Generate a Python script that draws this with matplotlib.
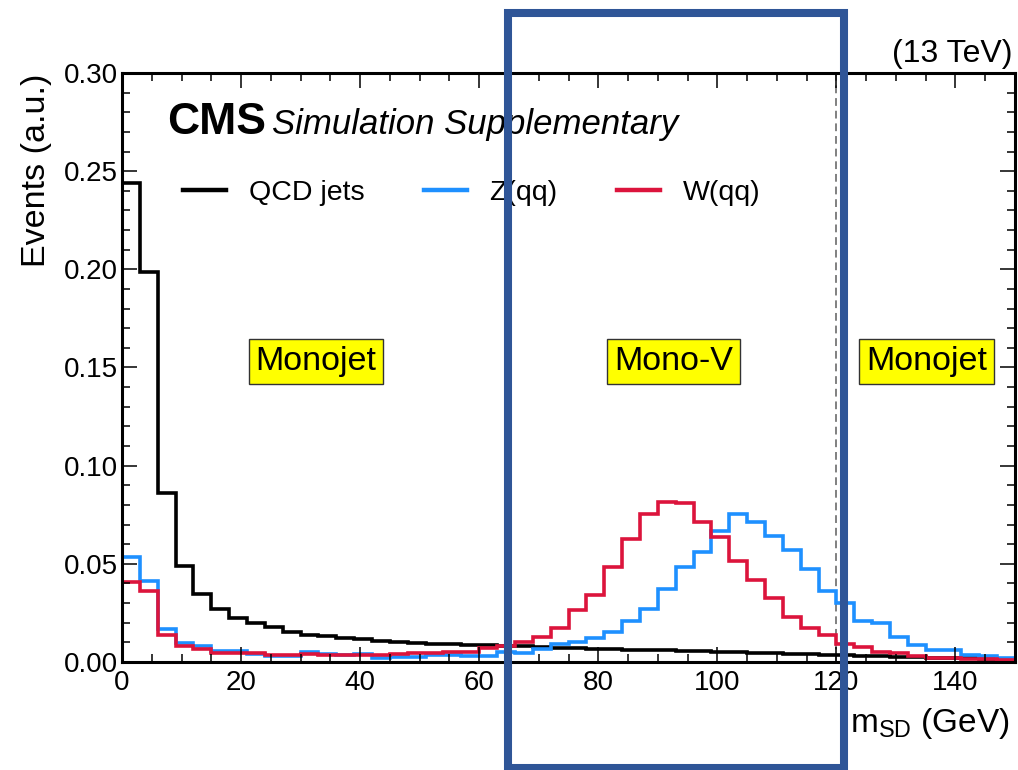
import numpy as np
import matplotlib
matplotlib.use("Agg")
import matplotlib.pyplot as plt
from matplotlib.ticker import MultipleLocator
from matplotlib.patches import Rectangle
import matplotlib.transforms as mtransforms

plt.rcParams['font.family'] = ['Liberation Sans', 'DejaVu Sans']
plt.rcParams['mathtext.fontset'] = 'custom'
plt.rcParams['mathtext.rm'] = 'Liberation Sans'
plt.rcParams['mathtext.it'] = 'Liberation Sans:italic'

# ---------------- data ----------------
bin_edges = np.arange(0, 151, 3)

qcd_jets = [0.244, 0.1985, 0.086, 0.049, 0.0345, 0.027, 0.0224, 0.0198, 0.0176, 0.0153,
            0.0140, 0.0130, 0.0122, 0.0115, 0.0108, 0.0103, 0.0098, 0.0094, 0.0090, 0.0087,
            0.0085, 0.0082, 0.0079, 0.0076, 0.0073, 0.0071, 0.0068, 0.0066, 0.0063, 0.0061,
            0.0059, 0.0056, 0.0054, 0.0052, 0.0050, 0.0047, 0.0045, 0.0043, 0.0040, 0.0038,
            0.0035, 0.0032, 0.0030, 0.0027, 0.0025, 0.0022, 0.0020, 0.0018, 0.0016, 0.0014]

z_qq = [0.0533, 0.0414, 0.0170, 0.0096, 0.0082, 0.0058, 0.0054, 0.0041, 0.0029, 0.0029,
        0.0049, 0.0041, 0.0036, 0.0042, 0.0022, 0.0025, 0.0025, 0.0037, 0.0034, 0.0032,
        0.0032, 0.0052, 0.0046, 0.0066, 0.0090, 0.0103, 0.0120, 0.0151, 0.0210, 0.0271,
        0.0371, 0.0482, 0.0558, 0.0665, 0.0753, 0.0714, 0.0642, 0.0570, 0.0476, 0.0363,
        0.0298, 0.0210, 0.0197, 0.0126, 0.0088, 0.0061, 0.0061, 0.0037, 0.0032, 0.0020]

w_qq = [0.0408, 0.0360, 0.0137, 0.0083, 0.0066, 0.0045, 0.0046, 0.0046, 0.0037, 0.0037,
        0.0039, 0.0034, 0.0034, 0.0037, 0.0036, 0.0041, 0.0044, 0.0044, 0.0052, 0.0052,
        0.0071, 0.0083, 0.0103, 0.0125, 0.0173, 0.0264, 0.0342, 0.0485, 0.0626, 0.0756,
        0.0817, 0.0809, 0.0711, 0.0637, 0.0512, 0.0420, 0.0324, 0.0231, 0.0171, 0.0137,
        0.0093, 0.0075, 0.0052, 0.0046, 0.0032, 0.0022, 0.0020, 0.0017, 0.0015, 0.0012]

series_labels = ["QCD jets", "Z(qq)", "W(qq)"]
series_colors = ["black", "#1E90FF", "#DC143C"]

region_labels = ["Monojet", "Mono-V", "Monojet"]
region_x = [32.6, 92.6, 135.1]
region_y = 0.153

monov_low, monov_high = 65, 120
box_x = [64.8, 121.3]

# ---------------- figure ----------------
W, H = 1018, 770
fig = plt.figure(figsize=(W / 100, H / 100), dpi=100)
ax = fig.add_axes([122 / W, 1 - 662 / H, (1015 - 122) / W, (662 - 73) / H])

for vals, lab, col in zip([qcd_jets, z_qq, w_qq], series_labels, series_colors):
    ax.stairs(vals, bin_edges, color=col, lw=2.6, label=lab, baseline=0)

ax.axvline(monov_high, color='gray', ls=(0, (4, 2.5)), lw=1.4, zorder=0.5)
ax.axvline(monov_low, color='gray', ls=(0, (4, 2.5)), lw=1.4, zorder=0.5)

ax.set_xlim(0, 150)
ax.set_ylim(0, 0.30)
ax.xaxis.set_major_locator(MultipleLocator(20))
ax.xaxis.set_minor_locator(MultipleLocator(5))
ax.yaxis.set_major_locator(MultipleLocator(0.05))
ax.yaxis.set_minor_locator(MultipleLocator(0.01))
ax.yaxis.set_major_formatter(matplotlib.ticker.FormatStrFormatter('%.2f'))
ax.tick_params(which='both', direction='in', top=True, right=True, labelsize=20, width=1.1)
ax.tick_params(which='major', length=11)
ax.tick_params(which='minor', length=5.5)
ax.tick_params(axis='y', pad=3)
ax.tick_params(axis='x', pad=6)
for s in ax.spines.values():
    s.set_linewidth(2.2)

# legend
leg = ax.legend(loc='upper left', bbox_to_anchor=(0.043, (662 - 172) / 589 + 0.0255),
                ncol=3, frameon=False, fontsize=20.5, handlelength=1.5, handletextpad=0.8,
                columnspacing=2.1, borderpad=0.3)
for h in leg.get_lines():
    h.set_linewidth(3.2)

# labels
fig.text(1010 / W, 1 - 732 / H, r"m$_{\mathrm{SD}}$ (GeV)", ha='right', va='baseline', fontsize=24)
fig.text(37 / W, 1 - 74 / H, "Events (a.u.)", rotation=90, ha='center', va='top', fontsize=24.5)
fig.text(1013 / W, 1 - 62 / H, "(13 TeV)", ha='right', va='baseline', fontsize=23)
fig.text(167 / W, 1 - 134 / H, "CMS", ha='left', va='baseline', fontsize=32, fontweight='bold')
fig.text(272 / W, 1 - 134 / H, "Simulation Supplementary", ha='left', va='baseline',
         fontsize=25, fontstyle='italic')

for lab, xr in zip(region_labels, region_x):
    ax.text(xr, region_y, lab, ha='center', va='center', fontsize=24.5,
            bbox=dict(boxstyle='square,pad=0.2', fc='yellow', ec='#333333', lw=1.0))

# overlay box highlighting the Mono-V window
trans = mtransforms.blended_transform_factory(ax.transData, fig.transFigure)
rect = Rectangle((box_x[0], 1 - 768 / H), box_x[1] - box_x[0], (768 - 13) / H,
                 transform=trans, fill=False, ec='#2F5597', lw=5.8, clip_on=False, zorder=10)
fig.add_artist(rect)

fig.savefig("out.png", dpi=100)
